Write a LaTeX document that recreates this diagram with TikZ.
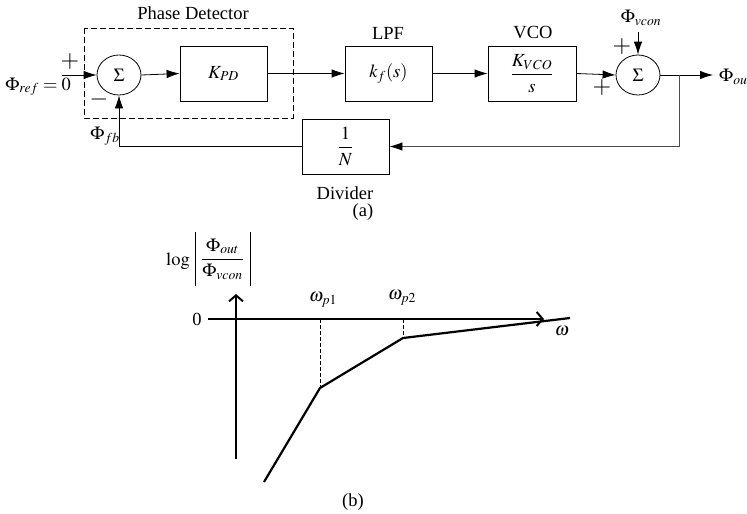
\documentclass[tikz,border=0pt]{standalone}
\usepackage{amsmath}
\usepackage{mathptmx}
\usepackage[no-math]{fontspec}
\setmainfont{Liberation Serif}
\usetikzlibrary{arrows.meta,shapes.geometric}
\begin{document}
\begin{tikzpicture}[x=1pt,y=-1pt,
  every node/.style={font=\fontsize{18.5}{22}\selectfont, inner sep=0pt},
  blk/.style={draw, line width=0.8pt, minimum width=87pt, minimum height=55pt},
  sumc/.style={draw, ellipse, line width=0.8pt, minimum width=44pt, minimum height=40pt},
  arr/.style={line width=0.8pt, -{Latex[length=13pt,width=8.5pt]}},
  fb/.style={line width=0.8pt, draw=black!70},
  axis/.style={line width=2.2pt, -{Straight Barb[length=6pt,width=14pt,line width=2pt]}},
  curve/.style={line width=2.2pt},
  guide/.style={line width=0.7pt, dashed, dash pattern=on 4pt off 2pt},
  sign/.style={font=\fontsize{24}{24}\selectfont}]
\useasboundingbox (0,0) rectangle (747,514);

% ---------- (a) block diagram ----------
\draw[dashed, line width=0.8pt, dash pattern=on 6pt off 3pt] (84,28) rectangle (293,118);
\node (pdlabel) at (193,13) {Phase Detector};

\node[sumc] (s1) at (119,75) {$\Sigma$};
\node[blk] (kpd) at (223.5,73.5) {$K_{PD}$};
\node[blk] (lpf) at (388.5,73.5) {$k_f(s)$};
\node[blk, minimum width=88pt] (vco) at (532,73.5) {$\dfrac{K_{VCO}}{s}$};
\node[sumc] (s2) at (638,75) {$\Sigma$};
\node[blk] (div) at (345.5,146.5) {$\dfrac{1}{N}$};

\node (lpflabel) at (388,33) {LPF};
\node (vcolabel) at (533,33) {VCO};
\node (divlabel) at (345,193) {Divider};
\node (alabel) at (363,212) {(a)};

\coordinate (in) at (62,75);
\node[anchor=base east] (phiref) at (71,90) {$\Phi_{ref}=0$};
\node[sign] (p1) at (70,62) {$+$};
\node[sign] (m1) at (99,99) {$-$};
\draw[arr] (in) -- (s1.west);
\draw[arr] (s1.east) -- (kpd.west);
\draw[arr] (kpd.east) -- (lpf.west);
\draw[arr] (lpf.east) -- (vco.west);
\draw[arr] (vco.east) -- (s2.west);

\coordinate (vc) at (638,32);
\node (phivcon) at (641,18) {$\Phi_{vcon}$};
\draw[arr] (vc) -- (s2.north);
\node[sign] (p2) at (622,47) {$+$};
\node[sign] (p3) at (602,88) {$+$};

\coordinate (out) at (713,75);
\draw[arr] (s2.east) -- (out);
\node[anchor=west] (phiout) at (719,77) {$\Phi_{ou}$};

\coordinate (br) at (679,75);
\draw[fb, -{Latex[length=13pt,width=8.5pt,color=black]}] (br) |- (div.east);
\draw[line width=0.8pt, -{Latex[length=13pt,width=8.5pt]}] (div.west) -| (s1.south);
\node (phifb) at (105,136) {$\Phi_{fb}$};

% ---------- (b) Bode sketch ----------
\coordinate (va0) at (236,459);
\coordinate (va1) at (236,294);
\coordinate (ha0) at (208,319);
\coordinate (ha1) at (544,319);
\draw[axis] (va0) -- (va1);
\draw[axis] (ha0) -- (ha1);

\coordinate (c0) at (264,482);
\coordinate (c1) at (320,388);
\coordinate (c2) at (403,338);
\coordinate (c3) at (570,318);
\coordinate (d1) at (320,319);
\coordinate (d2) at (403,319);
\draw[curve] (c0) -- (c1) -- (c2) -- (c3);
\draw[guide] (d1) -- (c1);
\draw[guide] (d2) -- (c2);

\node (zero) at (197,319) {0};
\node (wp1) at (323,300) {$\omega_{p1}$};
\node (wp2) at (402,298) {$\omega_{p2}$};
\node (w) at (562,331) {$\omega$};
\node (logtxt) at (178,261) {$\log$};
\node (frac) at (222.5,259) {$\dfrac{\Phi_{out}}{\Phi_{vcon}}$};
\coordinate (bl0) at (195,232);
\coordinate (bl1) at (195,286);
\coordinate (br0) at (250,232);
\coordinate (br1) at (250,286);
\draw[line width=0.9pt] (bl0) -- (bl1);
\draw[line width=0.9pt] (br0) -- (br1);
\node (blabel) at (353,502) {(b)};
\end{tikzpicture}
\end{document}
